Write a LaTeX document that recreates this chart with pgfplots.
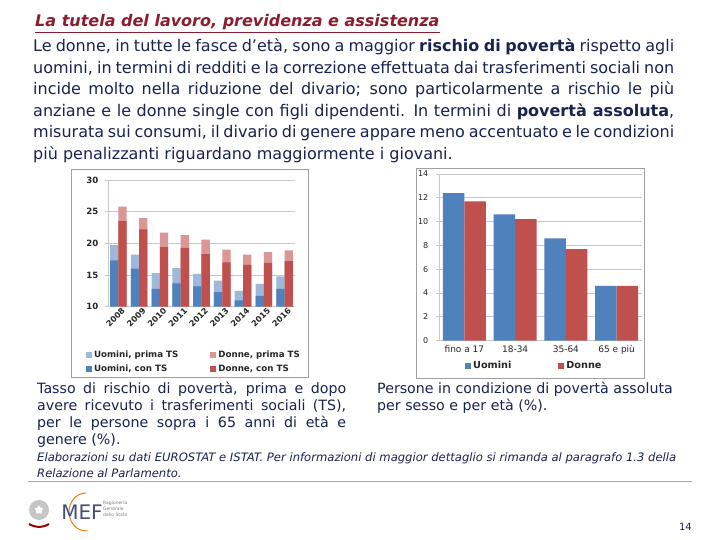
\documentclass[border=0pt]{standalone}
\usepackage{pgfplots}
\usepackage{pgfplotstable}
\pgfplotsset{compat=1.18}
\usepackage{fontspec}
\setmainfont{DejaVu Sans}
\usetikzlibrary{shapes.geometric}
\definecolor{txt}{HTML}{1A2250}
\definecolor{titred}{HTML}{8C1D2E}
\definecolor{ublue}{HTML}{4F81BD}
\definecolor{ured}{HTML}{C0504D}
\definecolor{ublueL}{HTML}{9CB8DB}
\definecolor{uredL}{HTML}{DA9795}
\definecolor{gridc}{HTML}{C8C8C8}
\definecolor{framec}{HTML}{A0A0A0}
\definecolor{ticktxt}{HTML}{262626}

\pgfplotsset{sqlegend/.style={legend image code/.code={\fill[##1,draw=none] (0pt,-3pt) rectangle (6pt,3pt);}}}

\pgfplotstableread{
x uprima ucon dprima dcon
0 19.7 17.3 25.8 23.5
1 18.2 16.0 24.0 22.2
2 15.3 12.8 21.7 19.4
3 16.1 13.7 21.3 19.3
4 15.2 13.2 20.6 18.3
5 14.1 12.3 19.0 17.0
6 12.5 11.0 18.2 16.6
7 13.6 11.7 18.6 16.9
8 14.8 12.8 18.9 17.2
}\tsdata

\pgfplotstableread{
x uomini donne
0 12.4 11.7
1 10.6 10.2
2 8.6 7.7
3 4.6 4.6
}\assdata

\newcommand{\fs}[1]{\fontsize{#1}{#1}\selectfont}

\begin{document}
\begin{tikzpicture}[x=1pt,y=1pt]
\useasboundingbox (0,0) rectangle (720,540);
\fill[white] (0,0) rectangle (720,540);

% title
\node[anchor=base west, inner sep=0pt, text=titred] at (35,513)
  {\fs{16}\bfseries\itshape\underline{La tutela del lavoro, previdenza e assistenza}};

% body paragraph
\begin{scope}[every node/.style={anchor=base west, inner sep=0pt, text=txt}]
\node at (33,488) {\fs{16}\makebox[641pt][s]{Le donne, in tutte le fasce d’età, sono a maggior \textbf{rischio di povertà} rispetto agli}};
\node at (33,466) {\fs{16}\makebox[641pt][s]{uomini, in termini di redditi e la correzione effettuata dai trasferimenti sociali non}};
\node at (33,445) {\fs{16}\makebox[641pt][s]{incide molto nella riduzione del divario; sono particolarmente a rischio le più}};
\node at (33,423) {\fs{16}\makebox[641pt][s]{anziane e le donne single con figli dipendenti. In termini di \textbf{povertà assoluta},}};
\node at (33,402) {\fs{16}\makebox[641pt][s]{misurata sui consumi, il divario di genere appare meno accentuato e le condizioni}};
\node at (33,380) {\fs{16}più penalizzanti riguardano maggiormente i giovani.};

% captions
\node at (37,146) {\fs{14.2}\makebox[309pt][s]{Tasso di rischio di povertà, prima e dopo}};
\node at (37,129) {\fs{14.2}\makebox[309pt][s]{avere ricevuto i trasferimenti sociali (TS),}};
\node at (37,112) {\fs{14.2}\makebox[309pt][s]{per le persone sopra i 65 anni di età e}};
\node at (37,95) {\fs{14.2}genere (\%).};
\node at (377,146) {\fs{14.2}Persone in condizione di povertà assoluta};
\node at (377,129) {\fs{14.2}per sesso e per età (\%).};
\node at (37,78) {\fs{11.6}\itshape Elaborazioni su dati EUROSTAT e ISTAT. Per informazioni di maggior dettaglio si rimanda al paragrafo 1.3 della};
\node at (37,62) {\fs{11.6}\itshape Relazione al Parlamento.};
\end{scope}

% frames
\draw[framec, line width=0.8pt] (71,163) rectangle (308,371);
\draw[framec, line width=0.8pt] (416,162) rectangle (644,372);

% left chart
\begin{axis}[
  at={(108pt,233.3pt)}, anchor=south west,
  scale only axis, width=187pt, height=126.7pt,
  xmin=-0.5, xmax=8.5, ymin=10, ymax=30,
  ytick={10,15,...,30},
  xtick={0,...,8},
  xticklabels={2008,2009,2010,2011,2012,2013,2014,2015,2016},
  /pgf/number format/assume math mode=true,
  axis x line*=bottom, axis y line*=left,
  axis line style={draw=gridc, line width=0.8pt},
  ymajorgrids, grid style={gridc, line width=0.8pt},
  major tick length=3pt, tick align=outside,
  major x tick style={draw=none},
  major y tick style={gridc, line width=0.8pt},
  yticklabel style={font=\fs{8.6}\bfseries, text=ticktxt, inner sep=1.5pt, xshift=-5pt},
  xticklabel style={font=\fs{8.1}\bfseries, text=ticktxt, rotate=45, anchor=north east, inner sep=0.3pt, xshift=4pt},
  legend columns=2,
  legend style={at={(-0.118,-0.335)}, anchor=north west, draw=none, fill=none,
    font=\fs{8.7}\bfseries, text=ticktxt, inner sep=0pt, row sep=1.5pt,
    /tikz/every even column/.append style={column sep=30pt}},
  legend cell align=left,
]
\addplot[ybar, bar width=8.3pt, bar shift=-4.15pt, fill=ublueL, draw=none, sqlegend] table[x=x,y=uprima]{\tsdata};
\addlegendentry{Uomini, prima TS}
\addplot[ybar, bar width=8.3pt, bar shift=4.15pt, fill=uredL, draw=none, sqlegend] table[x=x,y=dprima]{\tsdata};
\addlegendentry{Donne, prima TS}
\addplot[ybar, bar width=8.3pt, bar shift=-4.15pt, fill=ublue, draw=none, sqlegend] table[x=x,y=ucon]{\tsdata};
\addlegendentry{Uomini, con TS}
\addplot[ybar, bar width=8.3pt, bar shift=4.15pt, fill=ured, draw=none, sqlegend] table[x=x,y=dcon]{\tsdata};
\addlegendentry{Donne, con TS}
\end{axis}

% right chart
\begin{axis}[
  at={(439pt,199.3pt)}, anchor=south west,
  scale only axis, width=203pt, height=166.7pt,
  xmin=-0.5, xmax=3.5, ymin=0, ymax=14,
  ytick={0,2,...,14},
  xtick={0,...,3},
  xticklabels={fino a 17,18-34,35-64,65 e più},
  /pgf/number format/assume math mode=true,
  axis x line*=bottom, axis y line*=left,
  axis line style={draw=gridc, line width=0.8pt},
  ymajorgrids, grid style={gridc, line width=0.8pt},
  major tick length=3pt, tick align=outside,
  major x tick style={draw=none},
  major y tick style={gridc, line width=0.8pt},
  yticklabel style={font=\fs{8}, text=ticktxt, inner sep=1.5pt, xshift=-6pt},
  xticklabel style={font=\fs{9}, text=ticktxt, inner sep=2pt, text height=7pt, text depth=2pt},
  legend columns=2,
  legend style={at={(0.128,-0.11)}, anchor=north west, draw=none, fill=none,
    font=\fs{9.7}\bfseries, text=ticktxt, inner sep=0pt,
    /tikz/every even column/.append style={column sep=45pt}},
  legend cell align=left,
]
\addplot[ybar, bar width=21.5pt, bar shift=-10.75pt, fill=ublue, draw=none, sqlegend] table[x=x,y=uomini]{\assdata};
\addlegendentry{Uomini}
\addplot[ybar, bar width=21.5pt, bar shift=10.75pt, fill=ured, draw=none, sqlegend] table[x=x,y=donne]{\assdata};
\addlegendentry{Donne}
\end{axis}

% bottom rule
\draw[gray!70, line width=1pt] (28,58) -- (692,58);
% logos
\fill[gray!45] (39,30) circle (10);
\node[star, star points=5, fill=white, minimum size=9pt, inner sep=0pt] at (39,30) {};
\draw[red!60!black, line width=2pt] (29,16) .. controls (36,12) and (42,12) .. (49,16);
\draw[orange!70!brown, line width=1pt] (86,47) arc (90:275:17 and 19);
\node[anchor=center, text=txt!80, inner sep=0pt] at (82,28) {\fs{20}MEF};
\begin{scope}[every node/.style={anchor=base west, inner sep=0pt, text=gray}]
\node at (103,35) {\fs{4.5}Ragioneria};
\node at (103,29) {\fs{4.5}Generale};
\node at (103,23) {\fs{4.5}dello Stato};
\end{scope}
\node[anchor=base east, inner sep=0pt, text=txt] at (692,9) {\fs{10}14};
\end{tikzpicture}
\end{document}
